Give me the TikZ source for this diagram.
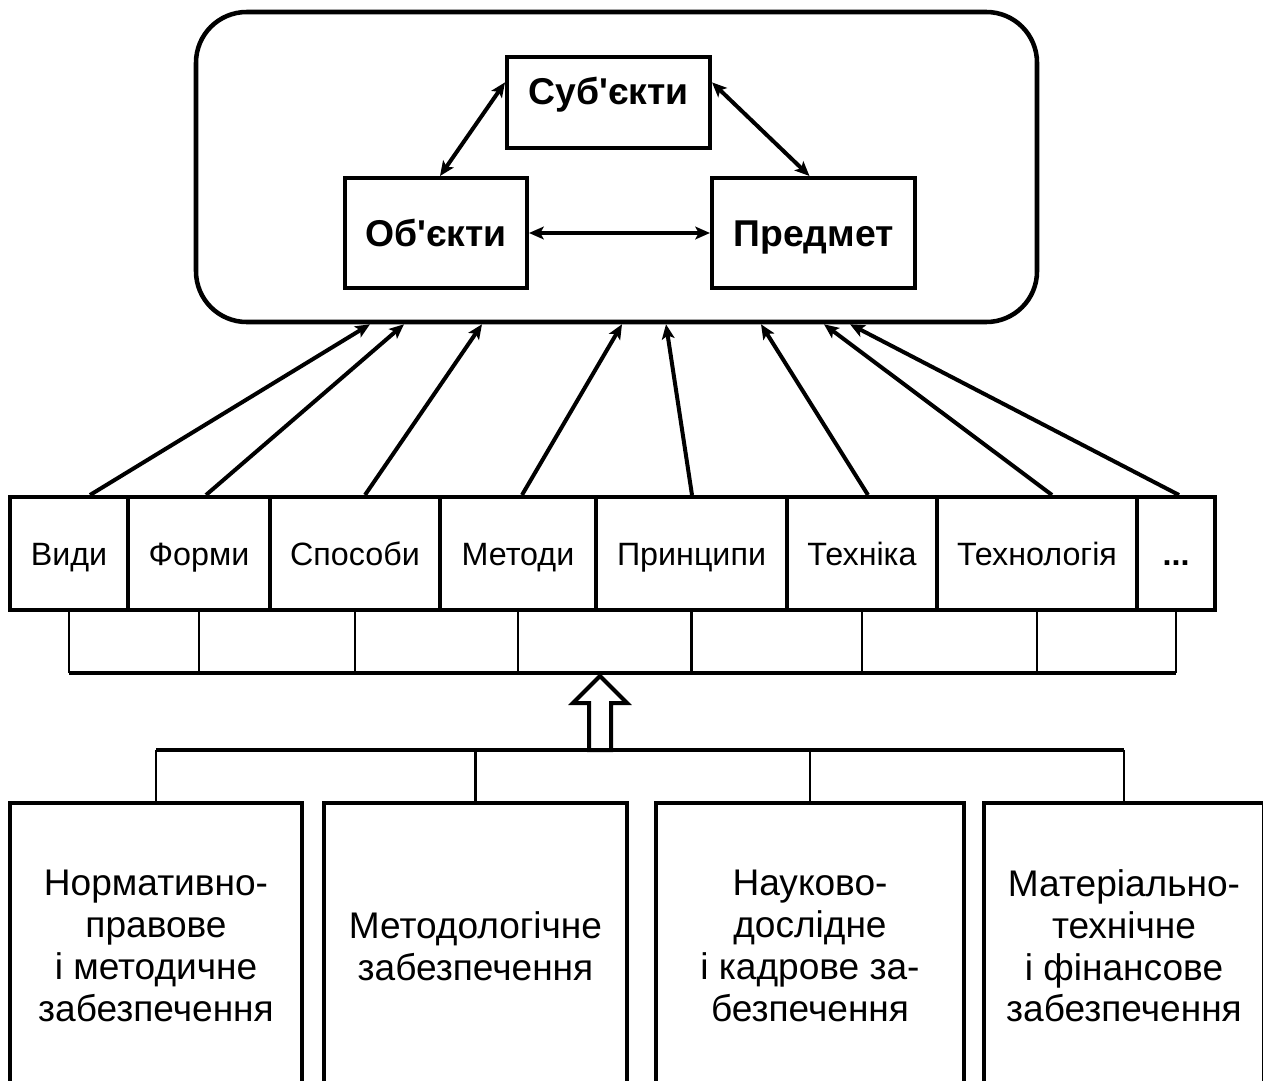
\documentclass[tikz,border=0pt]{standalone}
\usepackage{fontspec}
\setmainfont{Liberation Sans}
\newfontfamily\uafont{Liberation Sans}
\usepackage{tikz}
\usetikzlibrary{arrows.meta}
\tikzset{every picture/.style={line width=3pt}}

\begin{document}
\begin{tikzpicture}[x=0.75pt,y=0.75pt,yscale=-1,xscale=1,
		box/.style={draw, rectangle, align=center, inner sep=0pt},
		topbox/.style={box, text height=20.2pt, text depth=0pt, font=\uafont\fontsize{28}{33}\selectfont\bfseries},
		rowbox/.style={box, minimum height=84.75pt, text height=17.4pt, text depth=0pt, font=\uafont\fontsize{24.2}{29}\selectfont},
		basebox/.style={box, minimum height=214.5pt, font=\uafont\fontsize{27.8}{31.3}\selectfont},
		link/.style={{Stealth[length=11pt,width=9.5pt,inset=2.5pt]}-{Stealth[length=11pt,width=9.5pt,inset=2.5pt]}},
		feed/.style={-{Stealth[length=11pt,width=9.5pt,inset=2.5pt]}},
		thin/.style={line width=2.2pt}]
		\useasboundingbox (0,0) rectangle (1263,1081);
		\clip (0,0) rectangle (1263,1081);
		
		%Rounded Rect
		\node [draw, line width=3.4pt, rounded corners=38pt, minimum width=630.75pt, minimum height=232.5pt] (frame) at (616.5,167) {};
		
		% Text Node
		\node [topbox, text depth=17pt, minimum width=152.25pt, minimum height=68.25pt] (subj) at (608.5,102.5) {Суб'єкти};
		% Text Node
		\node [topbox, text depth=-3pt, minimum width=136.5pt, minimum height=82.5pt] (obj) at (436,233) {Об'єкти};
		% Text Node
		\node [topbox, text depth=-3pt, minimum width=152.25pt, minimum height=82.5pt] (pred) at (813.5,233) {Предмет};
		
		%Straight Lines
		\draw [link] (subj.169) -- ([xshift=3pt]obj.north);
		\draw [link] (subj.11) -- ([xshift=-3pt]pred.north);
		\draw [link] (obj.east) -- (pred.west);
		
		% Text Node
		\node [rowbox, minimum width=88.5pt] (vydy) at (69,553.5) {Види};
		\node [rowbox, minimum width=106.5pt] (formy) at (199,553.5) {Форми};
		\node [rowbox, minimum width=127.5pt] (sposoby) at (355,553.5) {Способи};
		\node [rowbox, minimum width=117pt] (metody) at (518,553.5) {Методи};
		\node [rowbox, minimum width=143.25pt] (pryntsypy) at (691.5,553.5) {Принципи};
		\node [rowbox, minimum width=112.5pt] (tekhnika) at (862,553.5) {Техніка};
		\node [rowbox, minimum width=150pt] (tekhnol) at (1037,553.5) {Технологія};
		\node [rowbox, minimum width=58.5pt] (inshe) at (1176,553.5) {\textbf{...}};
		
		%Straight Lines
		\draw [feed] (90,0 |- vydy.north) -- (370,0 |- frame.south);
		\draw [feed] (206,0 |- formy.north) -- (404,0 |- frame.south);
		\draw [feed] (365,0 |- sposoby.north) -- (482,0 |- frame.south);
		\draw [feed] (522,0 |- metody.north) -- (622,0 |- frame.south);
		\draw [feed] (692,0 |- pryntsypy.north) -- (666,0 |- frame.south);
		\draw [feed] (868,0 |- tekhnika.north) -- (761,0 |- frame.south);
		\draw [feed] (1052,0 |- tekhnol.north) -- (824,0 |- frame.south);
		\draw [feed] (1179,0 |- inshe.north) -- (850,0 |- frame.south);
		
		%Straight Lines
		\coordinate (bus) at (0,673);
		\draw (vydy.south |- bus) -- (inshe.south |- bus);
		\foreach \n in {vydy,formy,sposoby,metody,pryntsypy,tekhnika,tekhnol,inshe}
		\draw [thin] (\n.south) -- (\n.south |- bus);
		
		%Shape: Up Arrow
		\coordinate (up) at (600,676);
		\draw (up) -- ++(27,27) -- ++(-16,0) -- ++(0,47) -- ++(-22,0) -- ++(0,-47) -- ++(-16,0) -- cycle;
		
		% Text Node
		\node [basebox, minimum width=219pt] (base1) at (156,946) {Нормативно-\\правове\\і методичне\\забезпечення};
		\node [basebox, minimum width=227.25pt] (base2) at (475.5,946) {Методологічне\\забезпечення};
		\node [basebox, minimum width=231pt] (base3) at (810,946) {Науково-\\дослідне\\і кадрове за-\\безпечення};
		\node [basebox, minimum width=210pt] (base4) at (1124,946) {Матеріально-\\технічне\\і фінансове\\забезпечення};
		
		%Straight Lines
		\coordinate (rail) at (0,750);
		\draw [line width=3.6pt] (base1.north |- rail) -- (base4.north |- rail);
		\foreach \n in {base1,base2,base3,base4}
		\draw [thin] (\n.north) -- (\n.north |- rail);
		
\end{tikzpicture}
\end{document}
